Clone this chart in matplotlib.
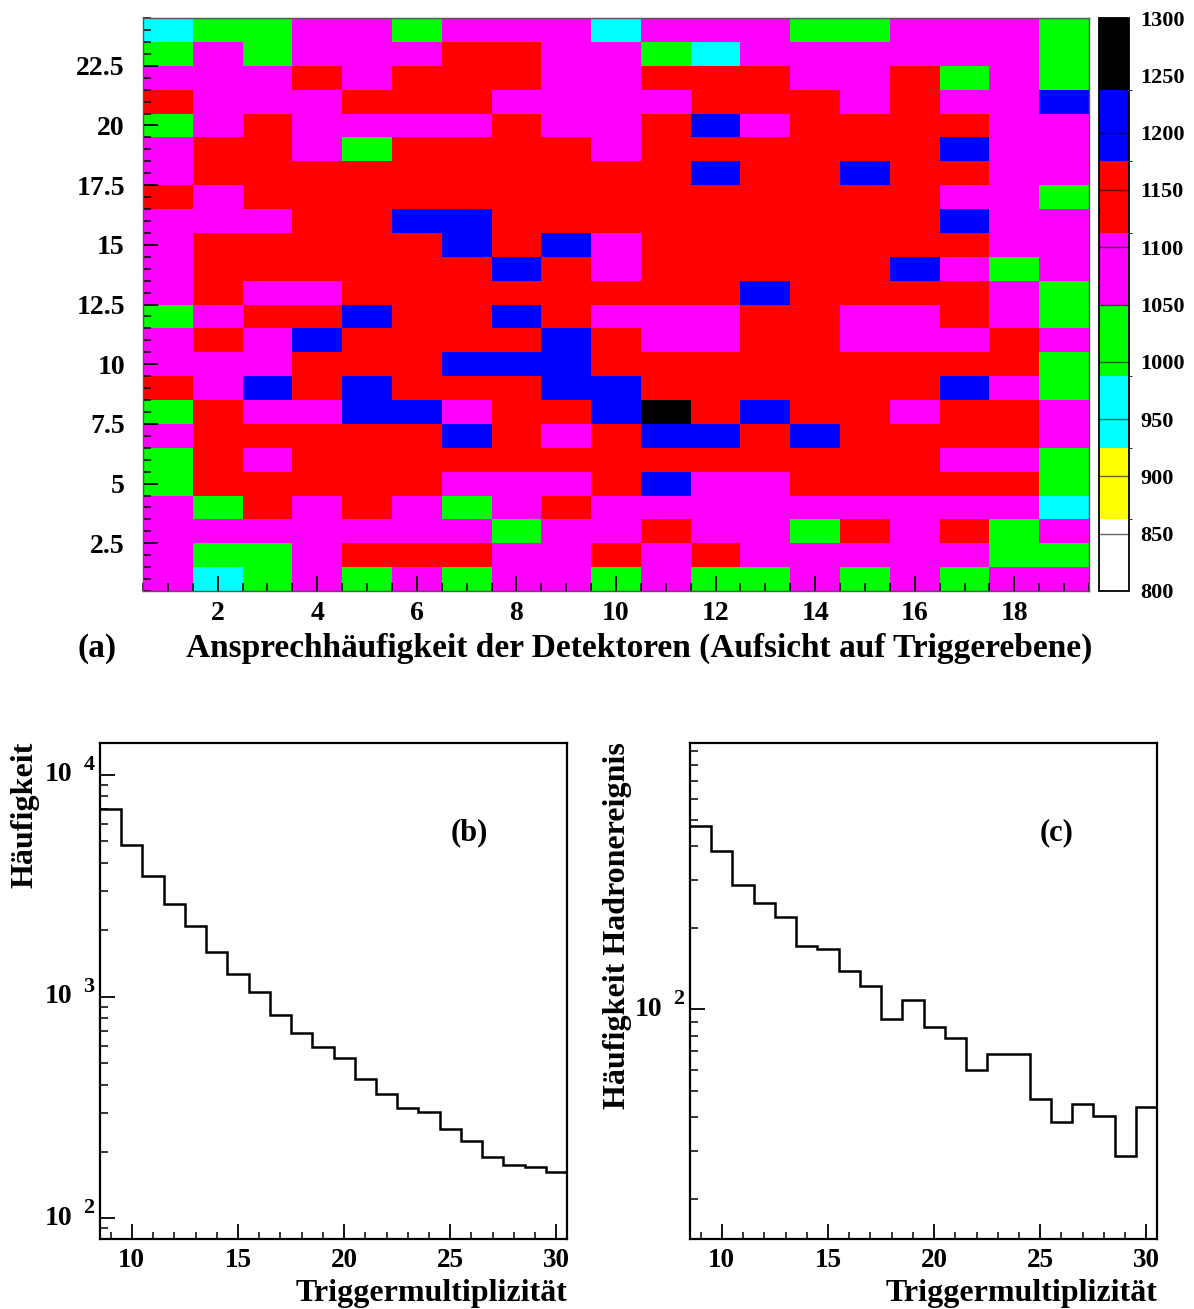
import numpy as np
import matplotlib
matplotlib.use('Agg')
import matplotlib.pyplot as plt
from matplotlib.colors import ListedColormap, BoundaryNorm
from matplotlib.ticker import MultipleLocator, FixedLocator, LogLocator, NullFormatter, FormatStrFormatter

plt.rcParams['font.family'] = ['Liberation Serif', 'DejaVu Serif']
plt.rcParams['font.weight'] = 'bold'

# ---------------- data ----------------
# detector response counts, rows listed from top (y=24) to bottom (y=1), columns x=1..19
rates_top_to_bottom = [
    [960,1020,1020,1080,1080,1020,1080,1080,1080,960,1080,1080,1080,1020,1020,1080,1080,1080,1020],
    [1020,1080,1020,1080,1080,1080,1145,1145,1080,1080,1020,960,1080,1080,1080,1080,1080,1080,1020],
    [1080,1080,1080,1145,1080,1145,1145,1145,1080,1080,1145,1145,1145,1080,1080,1145,1020,1080,1020],
    [1145,1080,1080,1080,1145,1145,1145,1080,1080,1080,1080,1145,1145,1145,1080,1145,1080,1080,1205],
    [1020,1080,1145,1080,1080,1080,1080,1145,1080,1080,1145,1205,1080,1145,1145,1145,1145,1080,1080],
    [1080,1145,1145,1080,1020,1145,1145,1145,1145,1080,1145,1145,1145,1145,1145,1145,1205,1080,1080],
    [1080,1145,1145,1145,1145,1145,1145,1145,1145,1145,1145,1205,1145,1145,1205,1145,1145,1080,1080],
    [1145,1080,1145,1145,1145,1145,1145,1145,1145,1145,1145,1145,1145,1145,1145,1145,1080,1080,1020],
    [1080,1080,1080,1145,1145,1205,1205,1145,1145,1145,1145,1145,1145,1145,1145,1145,1205,1080,1080],
    [1080,1145,1145,1145,1145,1145,1205,1145,1205,1080,1145,1145,1145,1145,1145,1145,1145,1080,1080],
    [1080,1145,1145,1145,1145,1145,1145,1205,1145,1080,1145,1145,1145,1145,1145,1205,1080,1020,1080],
    [1080,1145,1080,1080,1145,1145,1145,1145,1145,1145,1145,1145,1205,1145,1145,1145,1145,1080,1020],
    [1020,1080,1145,1145,1205,1145,1145,1205,1145,1080,1080,1080,1145,1145,1080,1080,1145,1080,1020],
    [1080,1145,1080,1205,1145,1145,1145,1145,1205,1145,1080,1080,1145,1145,1080,1080,1080,1145,1080],
    [1080,1080,1080,1145,1145,1145,1205,1205,1205,1145,1145,1145,1145,1145,1145,1145,1145,1145,1020],
    [1145,1080,1205,1145,1205,1145,1145,1145,1205,1205,1145,1145,1145,1145,1145,1145,1205,1080,1020],
    [1020,1145,1080,1080,1205,1205,1080,1145,1145,1205,1270,1145,1205,1145,1145,1080,1145,1145,1080],
    [1080,1145,1145,1145,1145,1145,1205,1145,1080,1145,1205,1205,1145,1205,1145,1145,1145,1145,1080],
    [1020,1145,1080,1145,1145,1145,1145,1145,1145,1145,1145,1145,1145,1145,1145,1145,1080,1080,1020],
    [1020,1145,1145,1145,1145,1145,1080,1080,1080,1145,1205,1080,1080,1145,1145,1145,1145,1145,1020],
    [1080,1020,1145,1080,1145,1080,1020,1080,1145,1080,1080,1080,1080,1080,1080,1080,1080,1080,960],
    [1080,1080,1080,1080,1080,1080,1080,1020,1080,1080,1145,1080,1080,1020,1145,1080,1145,1020,1080],
    [1080,1020,1020,1080,1145,1145,1145,1080,1080,1145,1080,1145,1080,1080,1080,1080,1080,1020,1020],
    [1080,960,1020,1080,1020,1080,1020,1080,1080,1020,1080,1020,1020,1080,1020,1080,1020,1080,1080],
]
palette_colors = ['#ffffff', '#ffff00', '#00ffff', '#00ff00', '#ff00ff', '#ff0000', '#0000ff', '#000000']
palette_bounds = [800, 862.5, 925, 987.5, 1050, 1112.5, 1175, 1237.5, 1300]
cbar_ticks = [800, 850, 900, 950, 1000, 1050, 1100, 1150, 1200, 1250, 1300]
a_xticks = [2, 4, 6, 8, 10, 12, 14, 16, 18]
a_yticks = [2.5, 5, 7.5, 10, 12.5, 15, 17.5, 20, 22.5]
a_yticklabels = ['2.5', '5', '7.5', '10', '12.5', '15', '17.5', '20', '22.5']

multiplicity = [9, 10, 11, 12, 13, 14, 15, 16, 17, 18, 19, 20, 21, 22, 23, 24, 25, 26, 27, 28, 29, 30]
counts_all = [7000, 4800, 3490, 2600, 2070, 1590, 1270, 1053, 824, 686, 591, 527,
              424, 365, 315, 303, 252, 223, 190, 174, 171, 161]
counts_hadron = [477, 385, 288, 247, 219, 171, 167, 139, 122, 92.6, 108, 86.5,
                 78.7, 59.6, 68.7, 68.7, 46.6, 38.5, 44.6, 40.5, 28.7, 43.6]

# ---------------- figure ----------------
W, H = 1194, 1309
fig = plt.figure(figsize=(W / 100, H / 100), dpi=100)
fig.patch.set_facecolor('white')
PX = 0.72  # points per pixel at 100 dpi

def fx(px):
    return px / W

def fy(py):
    return 1 - py / H

ax_a = fig.add_axes([fx(143), fy(591), fx(1089) - fx(143), fy(18) - fy(591)])
cax = fig.add_axes([fx(1099), fy(591), fx(1129) - fx(1099), fy(18) - fy(591)])
ax_b = fig.add_axes([fx(100), fy(1239), fx(567) - fx(100), fy(743) - fy(1239)])
ax_c = fig.add_axes([fx(690), fy(1239), fx(1157) - fx(690), fy(743) - fy(1239)])

# ---- (a) heat map ----
grid = np.flipud(np.array(rates_top_to_bottom, dtype=float))
ny, nx = grid.shape
xedges = np.arange(nx + 1) + 0.5
yedges = np.arange(ny + 1) + 0.5
cmap = ListedColormap(palette_colors)
norm = BoundaryNorm(palette_bounds, cmap.N)
mesh = ax_a.pcolormesh(xedges, yedges, grid, cmap=cmap, norm=norm, shading='flat')
ax_a.set_xlim(xedges[0], xedges[-1])
ax_a.set_ylim(yedges[0], yedges[-1])
ax_a.xaxis.set_major_locator(FixedLocator(a_xticks))
ax_a.xaxis.set_minor_locator(MultipleLocator(0.5))
ax_a.set_xticklabels([str(v) for v in a_xticks])
ax_a.yaxis.set_major_locator(FixedLocator(a_yticks))
ax_a.yaxis.set_minor_locator(MultipleLocator(0.5))
ax_a.set_yticklabels(a_yticklabels)
ax_a.tick_params(axis='both', which='major', direction='in', length=11, width=1.3,
                 labelsize=20, top=False, right=False)
ax_a.tick_params(axis='both', which='minor', direction='in', length=6, width=1.1,
                 top=False, right=False)
ax_a.tick_params(axis='x', which='major', pad=7)
ax_a.tick_params(axis='y', which='major', pad=13)
for sp in ax_a.spines.values():
    sp.set_linewidth(1.0)
    sp.set_color('#555555')

cb = fig.colorbar(mesh, cax=cax, ticks=cbar_ticks)
cb.outline.set_linewidth(1.3)
cax.yaxis.set_major_formatter(FormatStrFormatter('%d'))
cax.tick_params(length=0, labelsize=16, pad=8)
for v in cbar_ticks[1:-1]:
    cax.axhline(v, color='black', lw=1.0, alpha=0.6)

fig.text(fx(97), fy(648), '(a)', ha='center', va='center', fontsize=24, fontweight='bold')
fig.text(fx(639), fy(648), 'Ansprechhäufigkeit der Detektoren (Aufsicht auf Triggerebene)',
         ha='center', va='center', fontsize=24, fontweight='bold')

# ---- (b), (c) histograms ----
edges = np.append(np.array(multiplicity) - 0.5, multiplicity[-1] + 0.5)

def style_hist(ax, ylim):
    ax.set_yscale('log')
    ax.set_xlim(edges[0], edges[-1])
    ax.set_ylim(*ylim)
    ax.xaxis.set_major_locator(MultipleLocator(5))
    ax.xaxis.set_minor_locator(MultipleLocator(1))
    ax.yaxis.set_major_locator(LogLocator(base=10))
    ax.yaxis.set_minor_locator(LogLocator(base=10, subs=np.arange(2, 10)))
    ax.yaxis.set_major_formatter(NullFormatter())
    ax.yaxis.set_minor_formatter(NullFormatter())
    ax.tick_params(axis='both', which='major', direction='in', length=15 * PX, width=1.3,
                   labelsize=19.5, top=False, right=False)
    ax.tick_params(axis='both', which='minor', direction='in', length=7.5 * PX, width=1.1,
                   top=False, right=False)
    ax.tick_params(axis='x', which='major', pad=6.5)
    for sp in ax.spines.values():
        sp.set_linewidth(1.6)
    # ROOT-style "10 ^n" labels: mantissa centred on the tick, exponent raised
    lo, hi = ylim
    for e in range(int(np.floor(np.log10(lo))), int(np.ceil(np.log10(hi))) + 1):
        v = 10.0 ** e
        if lo <= v <= hi:
            ax.annotate('10', xy=(0, v), xycoords=('axes fraction', 'data'),
                        xytext=(-28 * PX, 0), textcoords='offset points',
                        ha='right', va='center', fontsize=20, fontweight='bold')
            ax.annotate(str(e), xy=(0, v), xycoords=('axes fraction', 'data'),
                        xytext=(-11 * PX, 10 * PX), textcoords='offset points',
                        ha='center', va='center', fontsize=16, fontweight='bold')

ax_b.stairs(counts_all, edges, color='black', linewidth=1.8, baseline=None)
style_hist(ax_b, (80.7, 13900))
ax_c.stairs(counts_hadron, edges, color='black', linewidth=1.8, baseline=None)
style_hist(ax_c, (14.2, 964))

fig.text(fx(469), fy(833), '(b)', ha='center', va='center', fontsize=22, fontweight='bold')
fig.text(fx(1057), fy(833), '(c)', ha='center', va='center', fontsize=22, fontweight='bold')

fig.text(fx(25), fy(742), 'Häufigkeit', rotation=90, ha='center', va='top',
         fontsize=23, fontweight='bold')
fig.text(fx(617), fy(742), 'Häufigkeit Hadronereignis', rotation=90, ha='center', va='top',
         fontsize=23, fontweight='bold')
fig.text(fx(567), fy(1294), 'Triggermultiplizität', ha='right', va='center',
         fontsize=23, fontweight='bold')
fig.text(fx(1157), fy(1294), 'Triggermultiplizität', ha='right', va='center',
         fontsize=23, fontweight='bold')

fig.savefig('out.png', dpi=100, facecolor='white')
